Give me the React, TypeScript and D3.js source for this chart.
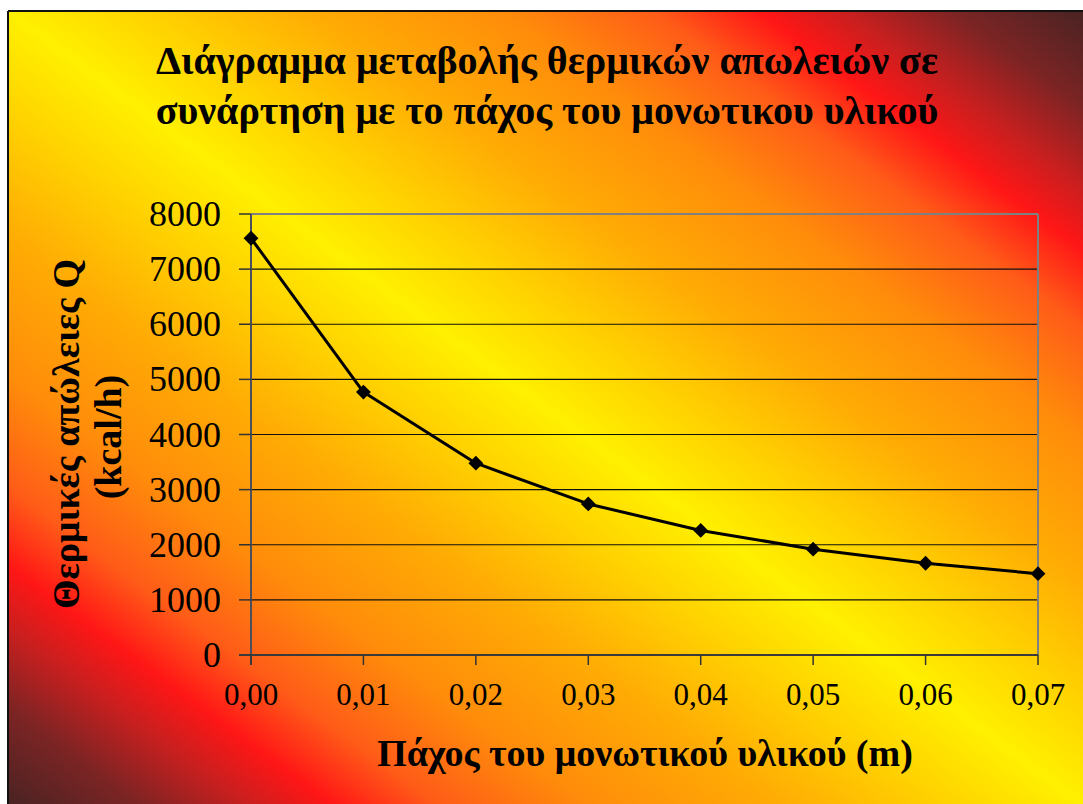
import React from "react";
import * as d3 from "d3";

// Insulation thickness (m) and the resulting heat loss Q (kcal/h)
const thickness = [0, 0.01, 0.02, 0.03, 0.04, 0.05, 0.06, 0.07];
const heatLoss = [7560, 4770, 3480, 2740, 2260, 1920, 1665, 1475];

const yTickValues = [0, 1000, 2000, 3000, 4000, 5000, 6000, 7000, 8000];
const xTickValues = [0, 0.01, 0.02, 0.03, 0.04, 0.05, 0.06, 0.07];

const titleLines = [
  "Διάγραμμα μεταβολής θερμικών απωλειών σε",
  "συνάρτηση με το πάχος του μονωτικου υλικού",
];
const yTitleLines = ["Θερμικές απώλειες Q", "(kcal/h)"];
const xTitle = "Πάχος του μονωτικού υλικού (m)";

// Diagonal "fire" backdrop: dark corners, red, orange, yellow in the middle
const backdropStops: [number, string][] = [
  [0.0, "#4a2323"],
  [0.06, "#7c2424"],
  [0.11, "#c81f1f"],
  [0.15, "#ff1616"],
  [0.2, "#ff5c18"],
  [0.27, "#ff8c0a"],
  [0.36, "#ffac04"],
  [0.44, "#ffd400"],
  [0.5, "#fff000"],
  [0.56, "#ffd400"],
  [0.64, "#ffac04"],
  [0.73, "#ff8c0a"],
  [0.8, "#ff5c18"],
  [0.85, "#ff1616"],
  [0.89, "#c81f1f"],
  [0.94, "#7c2424"],
  [1.0, "#4a2323"],
];

const W = 1083;
const H = 804;
const plot = { left: 251, right: 1038, top: 214, bottom: 655 };
const serif = "'Times New Roman', 'Liberation Serif', serif";

const greekDecimal = d3.formatLocale({
  decimal: ",",
  thousands: ".",
  grouping: [3],
  currency: ["", " €"],
});
const fmtX = greekDecimal.format(".2f");

export default function App() {
  const x = d3.scaleLinear().domain([0, 0.07]).range([plot.left, plot.right]);
  const y = d3.scaleLinear().domain([0, 8000]).range([plot.bottom, plot.top]);

  const points = thickness.map((t, i) => [t, heatLoss[i]] as [number, number]);
  const linePath = d3
    .line<[number, number]>()
    .x((d) => x(d[0]))
    .y((d) => y(d[1]))(points) as string;

  const diamond = d3.symbol(d3.symbolSquare, 110)() as string;

  return (
    <svg
      width={W}
      height={H}
      viewBox={`0 0 ${W} ${H}`}
      style={{ position: "absolute", left: 0, top: 0, background: "#fff" }}
    >
      <defs>
        <linearGradient id="fire" x1="0" y1="1" x2="1" y2="0">
          {backdropStops.map(([o, c]) => (
            <stop key={o} offset={o} stopColor={c} />
          ))}
        </linearGradient>
      </defs>

      {/* chart frame */}
      <rect x={9} y={12} width={W - 9} height={H - 12} fill="url(#fire)" />
      <line x1={8} y1={11} x2={W} y2={11} stroke="#111" strokeWidth={2} />
      <line x1={8} y1={11} x2={8} y2={H} stroke="#111" strokeWidth={2} />

      {/* horizontal gridlines */}
      {yTickValues
        .filter((v) => v > 0 && v < 8000)
        .map((v) => (
          <line
            key={`g${v}`}
            x1={plot.left}
            x2={plot.right}
            y1={y(v)}
            y2={y(v)}
            stroke="#111"
            strokeWidth={1.2}
          />
        ))}

      {/* plot area border (top/right) */}
      <line x1={plot.left} x2={plot.right} y1={plot.top} y2={plot.top} stroke="#808080" strokeWidth={2} />
      <line x1={plot.right} x2={plot.right} y1={plot.top} y2={plot.bottom} stroke="#808080" strokeWidth={2} />

      {/* y axis */}
      <line x1={plot.left} x2={plot.left} y1={plot.top} y2={plot.bottom + 10} stroke="#4a4f5c" strokeWidth={2} />
      {yTickValues.map((v) => (
        <g key={`y${v}`}>
          <line x1={plot.left - 12} x2={plot.left} y1={y(v)} y2={y(v)} stroke="#333" strokeWidth={1.5} />
          <text
            x={221}
            y={y(v) + 12}
            textAnchor="end"
            fontFamily={serif}
            fontSize={36}
            fill="#000"
          >
            {v}
          </text>
        </g>
      ))}

      {/* x axis */}
      <line x1={plot.left - 12} x2={plot.right} y1={plot.bottom} y2={plot.bottom} stroke="#3a3a3a" strokeWidth={2} />
      {xTickValues.map((v) => (
        <g key={`x${v}`}>
          <line x1={x(v)} x2={x(v)} y1={plot.bottom} y2={plot.bottom + 10} stroke="#333" strokeWidth={1.5} />
          <text
            x={x(v)}
            y={705}
            textAnchor="middle"
            fontFamily={serif}
            fontSize={31}
            fill="#000"
          >
            {fmtX(v)}
          </text>
        </g>
      ))}

      {/* series */}
      <path d={linePath} fill="none" stroke="#000" strokeWidth={3} strokeLinejoin="round" />
      {points.map((d, i) => (
        <path
          key={`m${i}`}
          d={diamond}
          transform={`translate(${x(d[0])},${y(d[1])}) rotate(45)`}
          fill="#000"
        />
      ))}

      {/* titles */}
      {titleLines.map((t, i) => (
        <text
          key={`t${i}`}
          x={547}
          y={74 + i * 50}
          textAnchor="middle"
          fontFamily={serif}
          fontWeight="bold"
          fontSize={40}
          fill="#000"
        >
          {t}
        </text>
      ))}
      {yTitleLines.map((t, i) => {
        const bx = i === 0 ? 79 : 121;
        const cy = i === 0 ? 434 : 437;
        return (
          <text
            key={`yt${i}`}
            transform={`translate(${bx},${cy}) rotate(-90)`}
            textAnchor="middle"
            fontFamily={serif}
            fontWeight="bold"
            fontSize={38}
            fill="#000"
          >
            {t}
          </text>
        );
      })}
      <text
        x={645}
        y={766}
        textAnchor="middle"
        fontFamily={serif}
        fontWeight="bold"
        fontSize={38}
        fill="#000"
      >
        {xTitle}
      </text>
    </svg>
  );
}
